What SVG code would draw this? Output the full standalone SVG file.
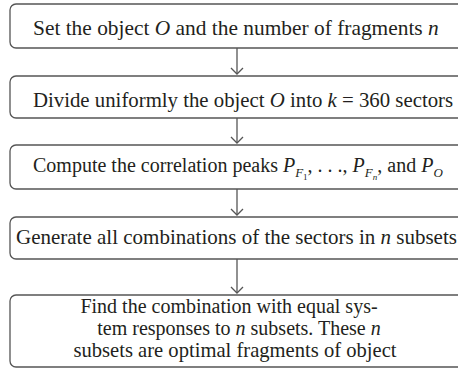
<svg xmlns="http://www.w3.org/2000/svg" width="458" height="370" viewBox="0 0 458 370">
<defs>
<style>
.box{fill:#fff;stroke:#555;stroke-width:1.3}
.t{font-family:"Liberation Serif","Times New Roman",serif;font-size:21px;fill:#231f20}
.i{font-style:italic}
.c{stroke:#555;stroke-width:1.3;fill:none}
</style>
<marker id="ah" markerWidth="14" markerHeight="14" refX="7" refY="7" orient="auto" markerUnits="userSpaceOnUse">
<path d="M1,1 L7,7 L1,13" fill="none" stroke="#555" stroke-width="1.3"/>
</marker>
</defs>
<rect width="458" height="370" fill="#fff"/>
<g id="connectors">
<line class="c" x1="237" y1="48" x2="237" y2="74" marker-end="url(#ah)"/>
<line class="c" x1="237" y1="118" x2="237" y2="143" marker-end="url(#ah)"/>
<line class="c" x1="237" y1="189" x2="237" y2="215" marker-end="url(#ah)"/>
<line class="c" x1="237" y1="259" x2="237" y2="293" marker-end="url(#ah)"/>
</g>
<g id="n1">
<rect class="box" x="10" y="4" width="456" height="44" rx="6"/>
<text class="t" x="33" y="35" style="font-size:21.4px">Set the object <tspan class="i">O</tspan> and the number of fragments <tspan class="i">n</tspan></text>
</g>
<g id="n2">
<rect class="box" x="10" y="76" width="456" height="42" rx="6"/>
<text class="t" x="33" y="107" style="font-size:20.8px">Divide uniformly the object <tspan class="i">O</tspan> into <tspan class="i">k</tspan> = 360 sectors</text>
</g>
<g id="n3">
<rect class="box" x="10" y="145" width="456" height="44" rx="6"/>
<text class="t" x="33" y="172" style="font-size:20px">Compute the correlation peaks <tspan class="i">P</tspan><tspan class="i" font-size="13" dy="5">F</tspan><tspan font-size="9" dy="3">1</tspan><tspan dy="-8">, . . ., </tspan><tspan class="i">P</tspan><tspan class="i" font-size="13" dy="5">F</tspan><tspan class="i" font-size="9" dy="3">n</tspan><tspan dy="-8">, and </tspan><tspan class="i">P</tspan><tspan class="i" font-size="13" dy="5">O</tspan></text>
</g>
<g id="n4">
<rect class="box" x="10" y="217" width="456" height="42" rx="6"/>
<text class="t" x="16" y="244">Generate all combinations of the sectors in <tspan class="i">n</tspan> subsets</text>
</g>
<g id="n5">
<rect class="box" x="10" y="295" width="456" height="72" rx="6"/>
<text class="t" text-anchor="middle" x="229" y="313" style="font-size:20px">Find the combination with equal sys-</text>
<text class="t" text-anchor="middle" x="239" y="335" style="font-size:20px">tem responses to <tspan class="i">n</tspan> subsets. These <tspan class="i">n</tspan></text>
<text class="t" text-anchor="middle" x="235" y="357" style="font-size:20.6px">subsets are optimal fragments of object</text>
</g>
</svg>
